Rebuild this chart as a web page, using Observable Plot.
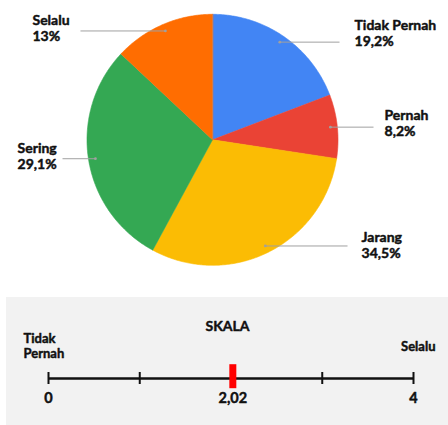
<!DOCTYPE html>
<html><head><meta charset="utf-8">
<script src="https://cdn.jsdelivr.net/npm/d3@7"></script>
<script src="https://cdn.jsdelivr.net/npm/@observablehq/plot@0.6"></script>
<style>
body{margin:0;background:#fff;font-family:Lato,sans-serif;}
svg{display:block;}
#panel{margin-left:6px;width:442px;}
</style></head><body>
<div id="pie"></div>
<div id="panel"></div>
<script>
// ---- data ----
const categories = ["Tidak Pernah", "Pernah", "Jarang", "Sering", "Selalu"];
const shares = [19.2, 8.2, 30.5, 29.1, 13.0];          // slice sizes as drawn
const shareLabels = ["19,2%", "8,2%", "34,5%", "29,1%", "13%"]; // printed labels
const colors = ["#4285f4", "#ea4335", "#fbbc04", "#34a853", "#ff6d01"];
const scaleTicks = [0, 1, 2, 3, 4];
const scaleTickLabels = [0, 2.02, 4];
const scaleValue = 2.02;
const scaleTitle = "SKALA";
const scaleLow = "Tidak\nPernah";
const scaleHigh = "Selalu";

// ---- layout (styles, not data) ----
const cx = 212, cy = 139.3, R = 125.5;
const leaderEnd = [1.012, 1.283, 1.076, -1.195, -1.052];  // leader line end, in radius units
const labelDx = [15, 11, 14, -45, -48];
const labelDy = [-9, -4, -1.5, -2.5, -3.5];
const ink = "#111";
const heavy = {fontWeight: 700, fill: ink, stroke: ink, strokeWidth: 0.45};
const fmt = d => String(d).replace(".", ",");

const rows = categories.map((c, i) => ({cat: c, share: shares[i], label: shareLabels[i], i}));
const arcs = d3.pie().sort(null).value(d => d.share)(rows);

const pts = arcs.flatMap(a => {
  const n = Math.max(2, Math.ceil((a.endAngle - a.startAngle) / 0.01));
  const ring = d3.range(n + 1).map(k => a.startAngle + (a.endAngle - a.startAngle) * k / n);
  return [{cat: a.data.cat, x: 0, y: 0}, ...ring.map(t => ({cat: a.data.cat, x: Math.sin(t), y: Math.cos(t)}))];
});

const leaders = arcs.map(a => {
  const m = (a.startAngle + a.endAngle) / 2, i = a.data.i;
  const x = 0.945 * Math.sin(m), y = 0.945 * Math.cos(m);
  return {
    cat: a.data.cat, label: a.data.label, x, y, x2: leaderEnd[i],
    tx: leaderEnd[i] + labelDx[i] / R, ty: y - labelDy[i] / R
  };
});

const pie = Plot.plot({
  width: 448, height: 297, margin: 0,
  x: {domain: [-1, 1], range: [cx - R, cx + R], axis: null},
  y: {domain: [-1, 1], range: [cy + R, cy - R], axis: null},
  color: {domain: categories, range: colors},
  style: {fontFamily: "Lato, sans-serif", background: "white"},
  marks: [
    Plot.line(pts, {x: "x", y: "y", z: "cat", fill: "cat", stroke: "cat", strokeWidth: 0.6, curve: "linear-closed"}),
    Plot.link(leaders, {x1: "x", y1: "y", x2: "x2", y2: "y", stroke: "#a0a0a0", strokeWidth: 1}),
    Plot.dot(leaders, {x: "x", y: "y", r: 1.4, fill: "#a0a0a0"}),
    Plot.text(leaders, {
      x: "tx", y: "ty", text: d => d.cat + "\n" + d.label,
      textAnchor: "start", lineAnchor: "middle", lineHeight: 1.15,
      fontSize: 14, ...heavy
    })
  ]
});
document.getElementById("pie").append(pie);

const scale = Plot.plot({
  width: 442, height: 128,
  marginLeft: 42, marginRight: 35, marginTop: 75, marginBottom: 41,
  x: {domain: [0, 4], axis: null},
  y: {domain: [-1, 1], axis: null},
  style: {fontFamily: "Lato, sans-serif", background: "#f2f2f2"},
  marks: [
    Plot.ruleY([0], {x1: 0, x2: 4, stroke: ink, strokeWidth: 2.5}),
    Plot.ruleX(scaleTicks, {x: d => d, y1: -1, y2: 1, stroke: ink, strokeWidth: 2}),
    Plot.ruleX([scaleValue], {x: d => d, y1: -1.7, y2: 2.3, stroke: "#ff0000", strokeWidth: 7}),
    Plot.text(scaleTickLabels, {x: d => d, text: d => fmt(d), frameAnchor: "bottom", dy: 18.5,
      fontSize: 14.5, ...heavy}),
    Plot.text([scaleTitle], {x: 2, text: d => d, frameAnchor: "top", dx: -3.5, dy: -51,
      fontSize: 14, ...heavy}),
    Plot.text([scaleLow], {x: 0, text: d => d, textAnchor: "start", dx: -25, dy: -33,
      lineAnchor: "middle", lineHeight: 1.2, fontSize: 13, ...heavy}),
    Plot.text([scaleHigh], {x: 4, text: d => d, textAnchor: "end", dx: 22, dy: -32,
      lineAnchor: "middle", fontSize: 13, ...heavy})
  ]
});
document.getElementById("panel").append(scale);
</script>
</body></html>
